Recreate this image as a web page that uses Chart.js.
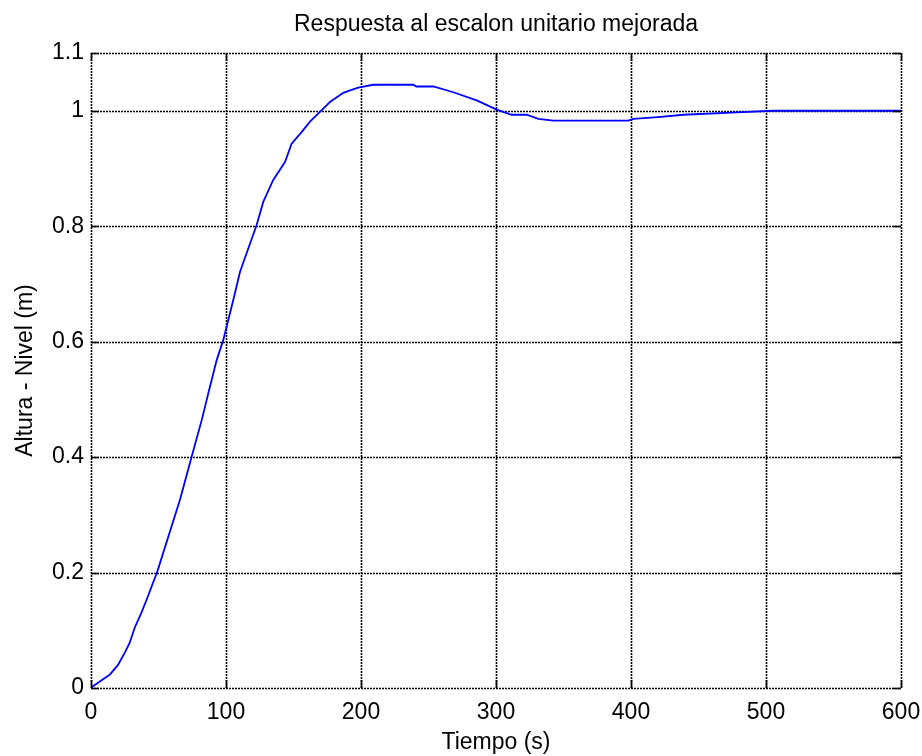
<!DOCTYPE html>
<html>
<head>
<meta charset="utf-8">
<script src="https://cdn.jsdelivr.net/npm/chart.js@4/dist/chart.umd.min.js"></script>
<style>
  html, body { margin: 0; padding: 0; background: #ffffff; }
  #wrap { width: 922px; height: 756px; }
</style>
</head>
<body>
<div id="wrap"><canvas id="c" width="922" height="756"></canvas></div>
<script>
// Texts
const titleText = 'Respuesta al escalon unitario mejorada';
const xTitle = 'Tiempo (s)';
const yTitle = 'Altura - Nivel (m)';

// Axis ticks
const xTicks = [0, 100, 200, 300, 400, 500, 600];
const yTicks = [0, 0.2, 0.4, 0.6, 0.8, 1, 1.1];

// Step response samples: time (s) and level (m)
const tiempo = [0, 1.5, 7.6, 13.8, 20, 25, 28.6, 32.3, 37.3, 42.2, 45.9, 48.4, 50.1,
  65.9, 74.6, 82, 88.1, 93.1, 98, 105.4, 110.4, 122.7, 127.6, 135, 143.7, 148.6,
  156, 162.2, 170.9, 177, 186.9, 193, 198, 209, 238.8, 241, 253.6, 268.4, 285.7,
  300.5, 311.6, 322.7, 331.4, 342.4, 398, 401.7, 420, 438.7, 478.3, 505.4, 600];
const nivel = [0, 0.003, 0.013, 0.023, 0.040, 0.061, 0.078, 0.104, 0.130, 0.159, 0.182, 0.197, 0.209,
  0.326, 0.401, 0.464, 0.522, 0.568, 0.603, 0.672, 0.721, 0.802, 0.842, 0.880, 0.911, 0.943,
  0.963, 0.981, 1.001, 1.015, 1.031, 1.036, 1.040, 1.045, 1.045, 1.042, 1.042, 1.032, 1.018,
  1.002, 0.993, 0.993, 0.986, 0.983, 0.983, 0.986, 0.989, 0.993, 0.997, 1.000, 1.000];

const FONT = '"Liberation Sans", Arial, Helvetica, sans-serif';
const FSIZE = 23;

const points = tiempo.map((t, i) => ({ x: t, y: nivel[i] }));

// Dotted grid, inward tick marks and the texts around the axes
const framePlugin = {
  id: 'frame',
  beforeDatasetsDraw(chart) {
    const { ctx, chartArea: a, scales: { x, y } } = chart;
    ctx.save();
    ctx.strokeStyle = '#000000';
    ctx.lineWidth = 1.6;
    ctx.setLineDash([2, 1]);
    xTicks.forEach(v => {
      const px = Math.round(x.getPixelForValue(v)) + 0.5;
      ctx.beginPath(); ctx.moveTo(px, a.top); ctx.lineTo(px, a.bottom); ctx.stroke();
    });
    yTicks.forEach(v => {
      const py = Math.round(y.getPixelForValue(v)) + 0.5;
      ctx.beginPath(); ctx.moveTo(a.left, py); ctx.lineTo(a.right, py); ctx.stroke();
    });
    ctx.restore();
  },
  afterDraw(chart) {
    const { ctx, chartArea: a, scales: { x, y } } = chart;
    ctx.save();
    ctx.strokeStyle = '#000000';
    ctx.lineWidth = 1.6;
    ctx.setLineDash([]);
    const L = 8;
    xTicks.forEach(v => {
      const px = Math.round(x.getPixelForValue(v)) + 0.5;
      ctx.beginPath();
      ctx.moveTo(px, a.bottom); ctx.lineTo(px, a.bottom - L);
      ctx.moveTo(px, a.top); ctx.lineTo(px, a.top + L);
      ctx.stroke();
    });
    yTicks.forEach(v => {
      const py = Math.round(y.getPixelForValue(v)) + 0.5;
      ctx.beginPath();
      ctx.moveTo(a.left, py); ctx.lineTo(a.left + L, py);
      ctx.moveTo(a.right, py); ctx.lineTo(a.right - L, py);
      ctx.stroke();
    });

    ctx.fillStyle = '#000000';
    ctx.font = FSIZE + 'px ' + FONT;
    ctx.textAlign = 'center';
    ctx.textBaseline = 'alphabetic';
    const cx = (a.left + a.right) / 2;
    const cy = (a.top + a.bottom) / 2;
    ctx.fillText(titleText, cx, 31);
    ctx.fillText(xTitle, cx, 749);
    ctx.translate(32, cy);
    ctx.rotate(-Math.PI / 2);
    ctx.fillText(yTitle, 0, 0);
    ctx.restore();
  }
};

new Chart(document.getElementById('c'), {
  type: 'line',
  data: {
    datasets: [{
      data: points,
      borderColor: '#0000ff',
      borderWidth: 1.8,
      pointRadius: 0,
      fill: false,
      tension: 0
    }]
  },
  options: {
    responsive: false,
    animation: false,
    devicePixelRatio: 1,
    layout: { padding: { top: 53, right: 21, bottom: 0, left: 0 } },
    plugins: {
      legend: { display: false },
      title: { display: false },
      tooltip: { enabled: false }
    },
    scales: {
      x: {
        type: 'linear',
        min: 0,
        max: 600,
        afterBuildTicks: s => { s.ticks = xTicks.map(v => ({ value: v })); },
        afterFit: s => { s.height = 68; s.paddingLeft = 0; s.paddingRight = 0; },
        grid: { display: false, drawTicks: false },
        border: { display: false },
        ticks: {
          color: '#000000',
          padding: 11,
          maxRotation: 0,
          autoSkip: false,
          font: { family: FONT, size: FSIZE },
          callback: v => String(v)
        }
      },
      y: {
        type: 'linear',
        min: 0,
        max: 1.1,
        afterBuildTicks: s => { s.ticks = yTicks.map(v => ({ value: v })); },
        afterFit: s => { s.width = 91; s.paddingTop = 0; s.paddingBottom = 0; },
        grid: { display: false, drawTicks: false },
        border: { display: false },
        ticks: {
          color: '#000000',
          padding: 7,
          autoSkip: false,
          font: { family: FONT, size: FSIZE },
          callback: v => String(Math.round(v * 10) / 10)
        }
      }
    }
  },
  plugins: [framePlugin]
});
</script>
</body>
</html>
